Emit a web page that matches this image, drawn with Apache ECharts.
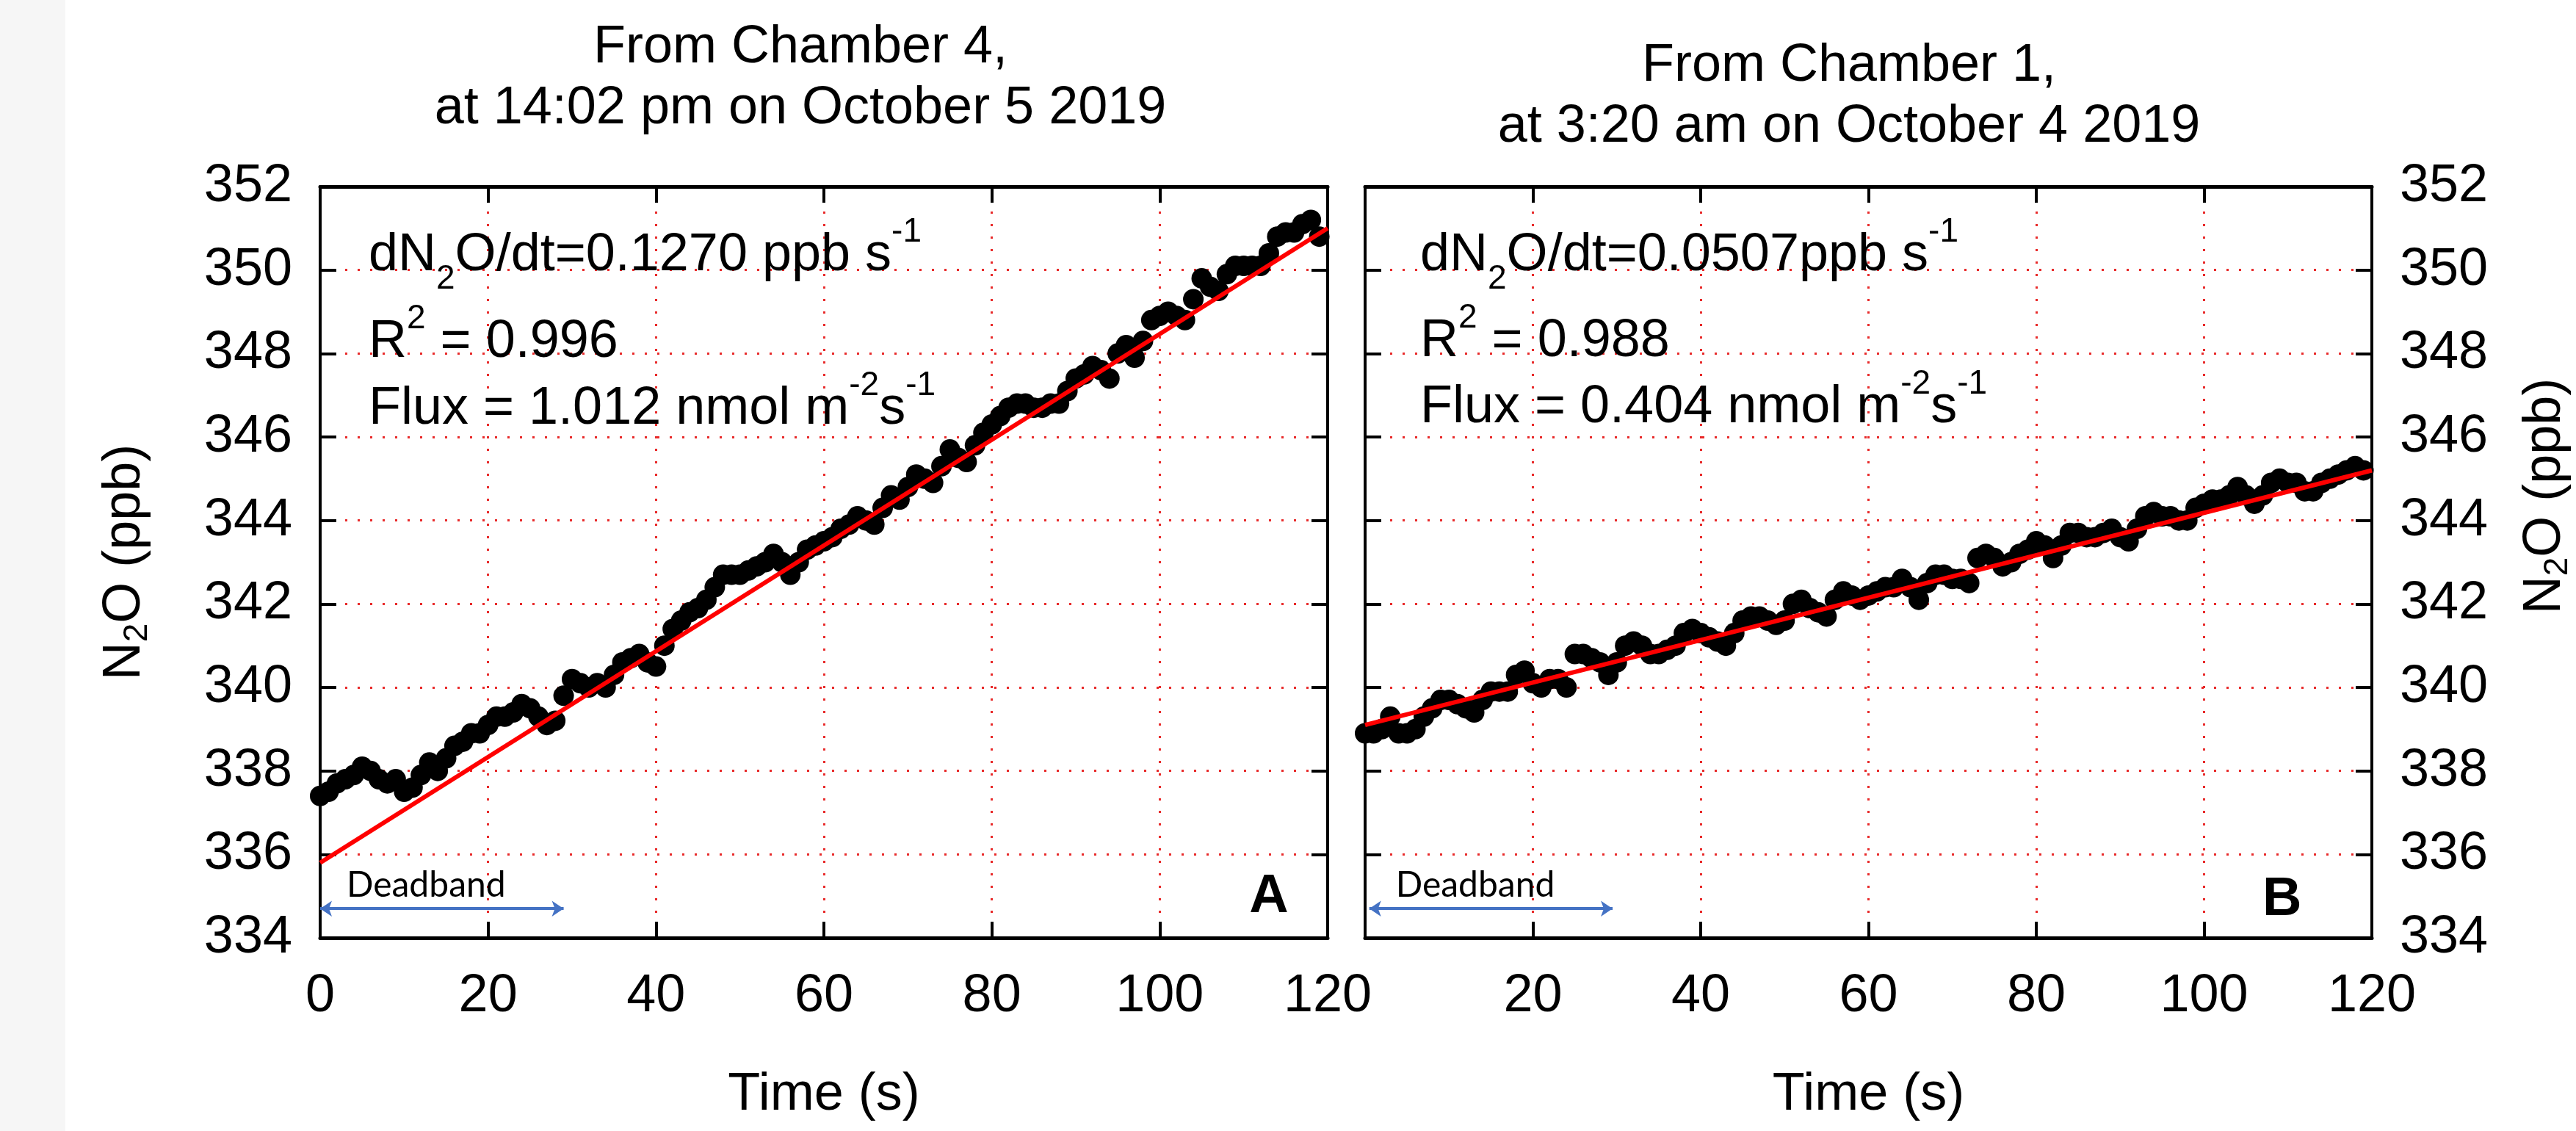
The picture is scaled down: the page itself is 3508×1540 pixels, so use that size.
<!DOCTYPE html>
<html>
<head>
<meta charset="utf-8">
<title>N2O chamber concentration</title>
<script src="https://cdn.jsdelivr.net/npm/echarts@6/dist/echarts.min.js"></script>
<style>
html, body { margin: 0; padding: 0; background: #ffffff; }
#main { width: 3508px; height: 1540px; }
</style>
</head>
<body>
<div id="main"></div>
<script>
// sample times (s)
var seconds = [0, 1, 2, 3, 4, 5, 6, 7, 8, 9, 10, 11, 12, 13, 14, 15, 16, 17, 18, 19,
    20, 21, 22, 23, 24, 25, 26, 27, 28, 29, 30, 31, 32, 33, 34, 35, 36, 37, 38, 39,
    40, 41, 42, 43, 44, 45, 46, 47, 48, 49, 50, 51, 52, 53, 54, 55, 56, 57, 58, 59,
    60, 61, 62, 63, 64, 65, 66, 67, 68, 69, 70, 71, 72, 73, 74, 75, 76, 77, 78, 79,
    80, 81, 82, 83, 84, 85, 86, 87, 88, 89, 90, 91, 92, 93, 94, 95, 96, 97, 98, 99,
    100, 101, 102, 103, 104, 105, 106, 107, 108, 109, 110, 111, 112, 113, 114, 115, 116, 117, 118, 119];

// chamber 4, 5 Oct 2019 14:02 (ppb)
var n2oA = [337.4, 337.5, 337.7, 337.8, 337.9, 338.1, 338.0, 337.8, 337.7, 337.8,
    337.5, 337.6, 337.9, 338.2, 338.0, 338.3, 338.6, 338.7, 338.9, 338.9,
    339.1, 339.3, 339.3, 339.4, 339.6, 339.5, 339.3, 339.1, 339.2, 339.8,
    340.2, 340.1, 340.0, 340.1, 340.0, 340.3, 340.6, 340.7, 340.8, 340.6,
    340.5, 341.0, 341.4, 341.6, 341.8, 341.9, 342.1, 342.4, 342.7, 342.7,
    342.7, 342.8, 342.9, 343.0, 343.2, 343.0, 342.7, 343.0, 343.3, 343.4,
    343.5, 343.6, 343.8, 343.9, 344.1, 344.0, 343.9, 344.3, 344.6, 344.5,
    344.8, 345.1, 345.0, 344.9, 345.3, 345.7, 345.5, 345.4, 345.8, 346.1,
    346.3, 346.5, 346.7, 346.8, 346.8, 346.7, 346.7, 346.8, 346.8, 347.1,
    347.4, 347.5, 347.7, 347.6, 347.4, 348.0, 348.2, 347.9, 348.3, 348.8,
    348.9, 349.0, 348.9, 348.8, 349.3, 349.8, 349.6, 349.5, 349.9, 350.1,
    350.1, 350.1, 350.1, 350.4, 350.8, 350.9, 350.9, 351.1, 351.2, 350.8];

// chamber 1, 4 Oct 2019 3:20 (ppb)
var n2oB = [338.9, 338.9, 339.0, 339.3, 338.9, 338.9, 339.0, 339.3, 339.5, 339.7,
    339.7, 339.6, 339.5, 339.4, 339.7, 339.9, 339.9, 339.9, 340.3, 340.4,
    340.1, 340.0, 340.2, 340.2, 340.0, 340.8, 340.8, 340.7, 340.6, 340.3,
    340.6, 341.0, 341.1, 341.0, 340.8, 340.8, 340.9, 341.0, 341.3, 341.4,
    341.3, 341.2, 341.1, 341.0, 341.3, 341.6, 341.7, 341.7, 341.6, 341.5,
    341.6, 342.0, 342.1, 341.9, 341.8, 341.7, 342.1, 342.3, 342.2, 342.1,
    342.2, 342.3, 342.4, 342.4, 342.6, 342.4, 342.1, 342.5, 342.7, 342.7,
    342.6, 342.6, 342.5, 343.1, 343.2, 343.1, 342.9, 343.0, 343.2, 343.3,
    343.5, 343.4, 343.1, 343.4, 343.7, 343.7, 343.6, 343.6, 343.7, 343.8,
    343.6, 343.5, 343.8, 344.1, 344.2, 344.1, 344.1, 344.0, 344.0, 344.3,
    344.4, 344.5, 344.5, 344.6, 344.8, 344.6, 344.4, 344.6, 344.9, 345.0,
    344.9, 344.9, 344.7, 344.7, 344.9, 345.0, 345.1, 345.2, 345.3, 345.2];

// linear fits, end points
var fitTime = [0, 120];
var fitA = [335.8, 351.0];
var fitB = [339.1, 345.2];

// deadband arrows (s)
var deadbandA = [0, 29];
var deadbandB = [0.5, 29.5];
var deadbandLevel = 334.7;

// axes
var xMin = 0, xMax = 120, xStep = 20;
var yMin = 334, yMax = 352, yStep = 2;

var titleA = ['From Chamber 4,', 'at 14:02 pm on October 5 2019'];
var titleB = ['From Chamber 1,', 'at 3:20 am on October 4 2019'];
var statsA = ['{m|dN}{sub|2}{m|O/dt=0.1270 ppb s}{sup|-1}', '{m|R}{sup|2}{m| = 0.996}', '{m|Flux = 1.012 nmol m}{sup|-2}{m|s}{sup|-1}'];
var statsB = ['{m|dN}{sub|2}{m|O/dt=0.0507ppb s}{sup|-1}', '{m|R}{sup|2}{m| = 0.988}', '{m|Flux = 0.404 nmol m}{sup|-2}{m|s}{sup|-1}'];

var FONT = 'Liberation Sans, Arial, sans-serif';
var GRID_RED = '#e82a2a';

var docChart = document.getElementById('main');
var myChart = echarts.init(docChart);

function pairs(xs, ys) {
    var out = [];
    for (var i = 0; i < xs.length; i++) {
        out.push([xs[i], ys[i]]);
    }
    return out;
}

var richText = {
    m: { fontFamily: FONT, fontSize: 72, fontWeight: 'normal', lineHeight: 110, color: '#000' },
    sub: { fontFamily: FONT, fontSize: 46, fontWeight: 'normal', lineHeight: 38, verticalAlign: 'bottom', color: '#000' },
    sup: { fontFamily: FONT, fontSize: 46, fontWeight: 'normal', lineHeight: 60, verticalAlign: 'top', color: '#000' }
};

function makeXAxis(gridIndex, position, showLabel, hideZero) {
    return {
        type: 'value',
        gridIndex: gridIndex,
        position: position,
        min: xMin, max: xMax, interval: xStep,
        name: showLabel ? 'Time (s)' : '',
        nameLocation: 'middle',
        nameGap: 178,
        nameTextStyle: { fontFamily: FONT, fontSize: 72, color: '#000' },
        axisLine: { show: true, onZero: false, lineStyle: { color: '#000', width: 5 } },
        axisTick: { show: true, inside: true, length: 22, lineStyle: { color: '#000', width: 4 } },
        axisLabel: {
            show: showLabel, margin: 44,
            fontFamily: FONT, fontSize: 72, color: '#000',
            showMinLabel: true, showMaxLabel: true,
            formatter: function (v) { return (hideZero && v === 0) ? '' : String(v); }
        },
        splitLine: { show: showLabel, lineStyle: { color: GRID_RED, width: 3, type: [3, 14] } }
    };
}

function makeYAxis(gridIndex, position, showLabel, showGrid) {
    return {
        type: 'value',
        gridIndex: gridIndex,
        position: position,
        min: yMin, max: yMax, interval: yStep,
        name: showLabel ? '{n|N}{s|2}{n|O (ppb)}' : '',
        nameLocation: 'middle',
        nameGap: position === 'left' ? 226 : 196,
        nameTextStyle: {
            // the right-hand name sits a little above the middle
            padding: position === 'left' ? 0 : [0, 0, 0, 180],
            rich: {
                n: { fontFamily: FONT, fontSize: 72, lineHeight: 80, color: '#000' },
                s: { fontFamily: FONT, fontSize: 46, lineHeight: 38, verticalAlign: 'bottom', color: '#000' }
            }
        },
        axisLine: { show: true, onZero: false, lineStyle: { color: '#000', width: 4 } },
        axisTick: { show: true, inside: true, length: 22, lineStyle: { color: '#000', width: 4 } },
        axisLabel: {
            show: showLabel, margin: 38,
            fontFamily: FONT, fontSize: 72, color: '#000',
            showMinLabel: true, showMaxLabel: true
        },
        splitLine: { show: showGrid, lineStyle: { color: GRID_RED, width: 3, type: [3, 14] } }
    };
}

function deadbandMark(range) {
    return {
        silent: true,
        symbol: ['arrow', 'arrow'],
        symbolSize: 16,
        lineStyle: { color: '#4472c4', width: 4, type: 'solid' },
        label: {
            show: true, formatter: 'Deadband', position: 'insideStartTop',
            distance: [36, 8],
            fontFamily: 'Lato, Open Sans, sans-serif', fontSize: 48, color: '#000'
        },
        data: [[{ coord: [range[0], deadbandLevel] }, { coord: [range[1], deadbandLevel] }]]
    };
}

function letterMark(letter, coord) {
    return {
        silent: true,
        symbol: 'rect', symbolSize: 1,
        itemStyle: { color: 'rgba(0,0,0,0)' },
        label: { show: true, position: 'inside', formatter: letter, fontFamily: FONT, fontSize: 74, fontWeight: 'bold', color: '#000' },
        data: [{ coord: coord }]
    };
}

function makePanel(xIndex, yIndex, values, fit, deadband, letter, letterCoord) {
    return [{
        type: 'scatter',
        xAxisIndex: xIndex, yAxisIndex: yIndex,
        data: pairs(seconds, values),
        symbol: 'circle', symbolSize: 28,
        itemStyle: { color: '#000', opacity: 1 },
        z: 2,
        markLine: deadbandMark(deadband),
        markPoint: letterMark(letter, letterCoord)
    }, {
        type: 'line',
        xAxisIndex: xIndex, yAxisIndex: yIndex,
        data: pairs(fitTime, fit),
        symbol: 'none',
        lineStyle: { color: '#ff0000', width: 6 },
        z: 3
    }];
}

function statTitles(lines, left, tops) {
    var out = [];
    for (var i = 0; i < lines.length; i++) {
        out.push({
            text: lines[i], left: left, top: tops[i], padding: 0,
            textStyle: { fontWeight: 'normal', rich: richText }
        });
    }
    return out;
}

var titles = [{
    text: titleA.join('\n'), left: 1090, top: 24, textAlign: 'center', padding: 0,
    textStyle: { fontFamily: FONT, fontSize: 72, fontWeight: 'normal', lineHeight: 83, color: '#000' }
}, {
    text: titleB.join('\n'), left: 2518, top: 49, textAlign: 'center', padding: 0,
    textStyle: { fontFamily: FONT, fontSize: 72, fontWeight: 'normal', lineHeight: 83, color: '#000' }
}].concat(statTitles(statsA, 502, [293, 411, 502]), statTitles(statsB, 1934, [293, 410, 500]));

var option = {
    animation: false,
    backgroundColor: '#ffffff',
    title: titles,
    graphic: [{
        type: 'rect', left: 0, top: 0, z: -10,
        shape: { width: 89, height: 1540 },
        style: { fill: '#f6f6f6' }
    }],
    grid: [
        { left: 436, top: 254, width: 1372, height: 1023 },
        { left: 1859, top: 254, width: 1371, height: 1023 }
    ],
    xAxis: [
        makeXAxis(0, 'bottom', true, false),
        makeXAxis(0, 'top', false, false),
        makeXAxis(1, 'bottom', true, true),
        makeXAxis(1, 'top', false, false)
    ],
    yAxis: [
        makeYAxis(0, 'left', true, true),
        makeYAxis(0, 'right', false, false),
        makeYAxis(1, 'left', false, false),
        makeYAxis(1, 'right', true, true)
    ],
    series: makePanel(0, 0, n2oA, fitA, deadbandA, 'A', [113, 334.97])
        .concat(makePanel(2, 3, n2oB, fitB, deadbandB, 'B', [109.3, 334.9]))
};

myChart.setOption(option);
</script>
</body>
</html>
